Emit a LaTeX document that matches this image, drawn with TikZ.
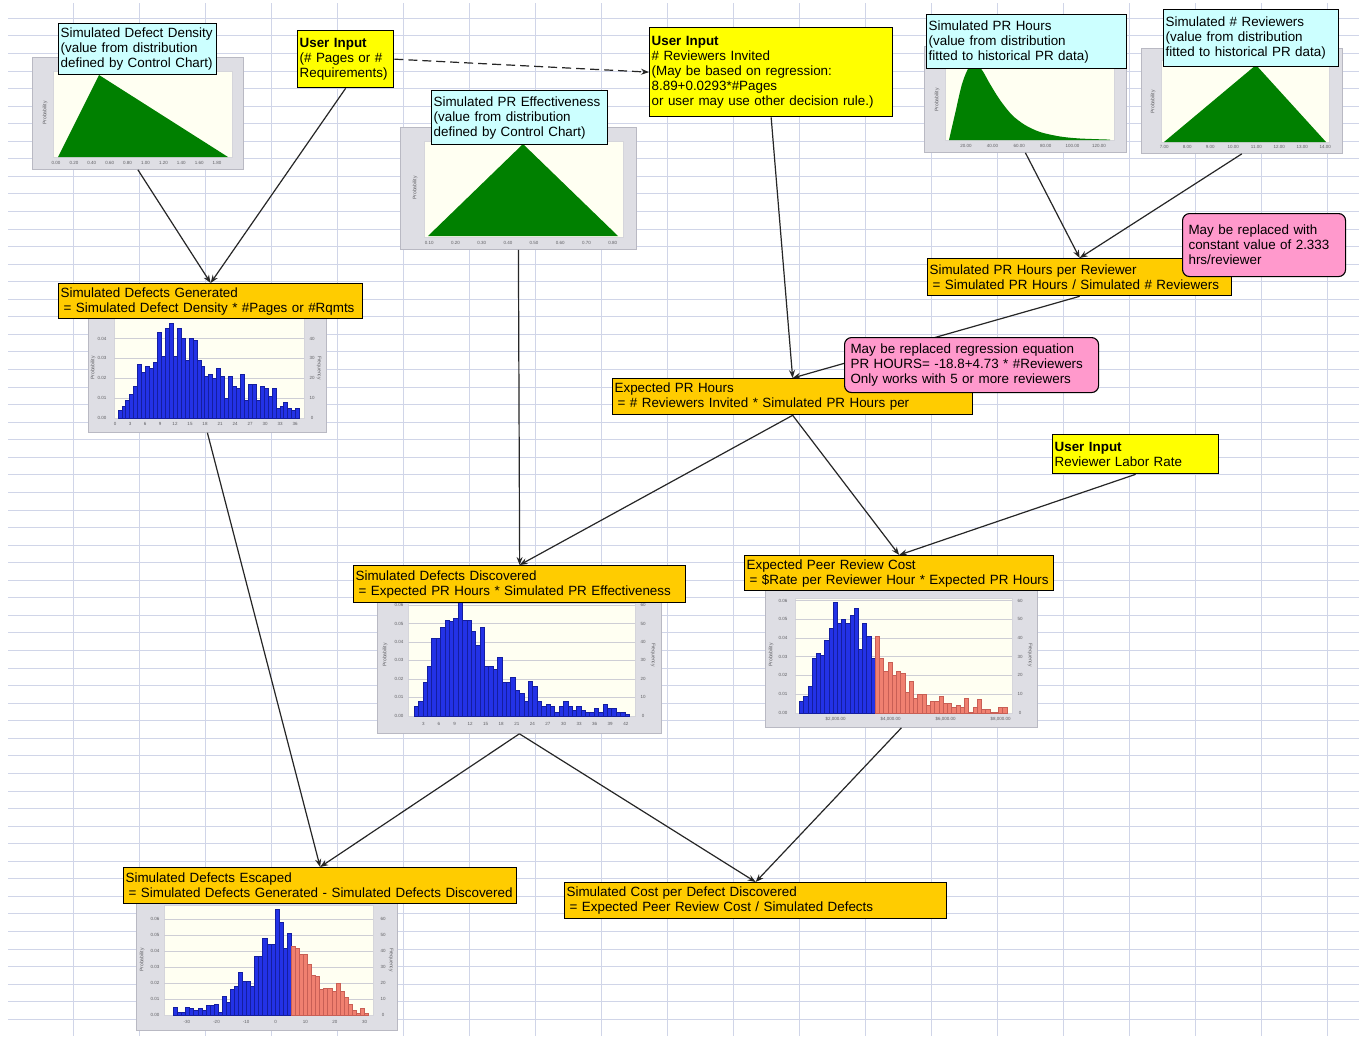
\documentclass[tikz,border=0pt]{standalone}
\usepackage{fontspec}
\setmainfont{Liberation Sans}
\usetikzlibrary{arrows.meta}
\definecolor{gridblue}{RGB}{208,213,232}
\definecolor{calcorange}{RGB}{255,204,0}
\definecolor{distcyan}{RGB}{204,255,255}
\definecolor{inyellow}{RGB}{255,255,0}
\definecolor{notepink}{RGB}{255,153,204}
\definecolor{framefill}{RGB}{222,222,228}
\definecolor{frameline}{RGB}{185,185,195}
\definecolor{plotfill}{RGB}{255,255,242}
\definecolor{distgreen}{RGB}{0,128,0}
\definecolor{barblue}{RGB}{35,50,230}
\definecolor{baredge}{RGB}{20,30,160}
\definecolor{barred}{RGB}{240,128,112}
\definecolor{rededge}{RGB}{200,95,85}
\definecolor{tickgray}{RGB}{95,95,100}
\newcommand\boxfont{\fontsize{13.4}{15}\selectfont}
\newcommand\tickfont{\fontsize{4.5}{5}\selectfont}
\tikzset{
  gridline/.style={draw=gridblue, line width=0.9pt},
  chart/.style={draw=frameline, fill=framefill, anchor=north west, inner sep=0pt, line width=0.8pt},
  plotarea/.style={fill=plotfill, draw=frameline!60, line width=0.5pt},
  plotgrid/.style={draw=frameline!70, line width=0.5pt},
  bluebar/.style={fill=barblue, draw=baredge, line width=0.3pt},
  redbar/.style={fill=barred, draw=rededge, line width=0.3pt},
  tick/.style={font=\tickfont, text=tickgray, inner sep=0pt},
  axlabel/.style={font=\fontsize{5}{5}\selectfont, text=tickgray, inner sep=0pt},
  box/.style={draw=black, line width=1.3pt, anchor=north west, inner xsep=2pt, inner ysep=0pt, align=left, font=\boxfont},
  calc/.style={box, fill=calcorange},
  dist/.style={box, fill=distcyan},
  input/.style={box, fill=inyellow},
  note/.style={box, fill=notepink, rounded corners=7pt, inner xsep=6pt, line width=1.1pt},
  arr/.style={->, line width=1.2pt, draw=black!85}
}
\begin{document}
\begin{tikzpicture}[>={Stealth[length=8pt,width=6pt]}, x=1pt, y=-1pt]
\useasboundingbox (0,0) rectangle (1359,1036);
\fill[white] (0,0) rectangle (1359,1036);
\foreach \i in {0,...,57} \draw[gridline] (8,{18.3+17.56*\i}) -- (1359,{18.3+17.56*\i});
\foreach \i in {0,...,19} \draw[gridline] ({73+66*\i},3) -- ({73+66*\i},1036);

% distributions
\node[chart, minimum width=211, minimum height=112] (densc) at (32,57) {};
\filldraw[plotarea] (53,71) rectangle (232,157);
\fill[distgreen] (58,157) -- (99,75) -- (228,157) -- cycle;
\node[axlabel, rotate=90] (densy) at (45,113) {Probability};
\foreach \v [count=\i from 0] in {0.00,0.20,0.40,0.60,0.80,1.00,1.20,1.40,1.60,1.80}
  \node[tick] (densx\i) at ({56+17.9*\i},163) {\v};

\node[chart, minimum width=236, minimum height=122] (effc) at (400,127) {};
\filldraw[plotarea] (424,141) rectangle (623,237);
\fill[distgreen] (428,236) -- (523,144) -- (618,236) -- cycle;
\node[axlabel, rotate=90] (effy) at (415,188) {Probability};
\foreach \v [count=\i from 0] in {0.10,0.20,0.30,0.40,0.50,0.60,0.70,0.80}
  \node[tick] (effx\i) at ({429.3+26.2*\i},243) {\v};

\node[chart, minimum width=202, minimum height=106] (hrsc) at (924,46) {};
\filldraw[plotarea] (945,60) rectangle (1114,140);
\fill[distgreen] plot[smooth] coordinates {(949,140) (955,114) (962,84) (969,67) (975,64) (982,70) (990,84) (1000,100) (1012,115) (1025,125) (1040,132) (1060,136.5) (1080,138.5) (1110,139.6)} -- (1110,140) -- cycle;
\node[axlabel, rotate=90] (hrsy) at (937,100) {Probability};
\foreach \v [count=\i from 0] in {20.00,40.00,60.00,80.00,100.00,120.00}
  \node[tick] (hrsx\i) at ({966+26.6*\i},146) {\v};

\node[chart, minimum width=201, minimum height=105] (nrevc) at (1141,48) {};
\filldraw[plotarea] (1161,60) rectangle (1329,142);
\fill[distgreen] (1164,142) -- (1256,65) -- (1326,142) -- cycle;
\node[axlabel, rotate=90] (nrevy) at (1153,102) {Probability};
\foreach \v [count=\i from 0] in {7.00,8.00,9.00,10.00,11.00,12.00,13.00,14.00}
  \node[tick] (nrevx\i) at ({1164.3+23*\i},147) {\v};

% histograms
\node[chart, minimum width=238, minimum height=132] (genc) at (88,300) {};
\filldraw[plotarea] (114,318) rectangle (304,418);
\foreach \k in {1,...,4} \draw[plotgrid] (114,{417.7-19.8*\k}) -- (304,{417.7-19.8*\k});
\begin{scope}[shift={(117.7,417.7)}, yscale=-1]
  \foreach \h [count=\i] in {4,6,9,12,16,27,23,26,25,28,43,31,45,48,31,45,40,29,40,39,29,26,21,22,20,25,21,10,21,16,15,22,9,17,17,9,16,15,11,15,5,6,8,5,4,5}
    \filldraw[bluebar] ({(\i-1)*3.95},0) rectangle ++(3.95,{\h*1.98});
\end{scope}
\foreach \v in {0,3,...,36} \node[tick] (genx\v) at ({115+5*\v},424) {\v};
\foreach \k/\f in {0/0,1/10,2/20,3/30,4/40} {
  \node[tick] (genp\k) at (102,{417.7-19.8*\k}) {0.0\k};
  \node[tick] (genf\k) at (312,{417.7-19.8*\k}) {\f};
}
\node[axlabel, rotate=90] (geny) at (93,368) {Probability};
\node[axlabel, rotate=-90] (genr) at (319,368) {Frequency};

\node[chart, minimum width=284, minimum height=138] (discc) at (377,595) {};
\filldraw[plotarea] (408,603) rectangle (635,716);
\foreach \k in {1,...,6} \draw[plotgrid] (408,{715.7-18.45*\k}) -- (635,{715.7-18.45*\k});
\begin{scope}[shift={(414,715.7)}, yscale=-1]
  \foreach \h [count=\i] in {5,8,18,27,42,42,48,52,51,53,62,52,52,46,38,48,27,27,25,32,18,18,21,14,12,8,19,16,8,5,6,5,2,5,8,5,3,5,3,2,2,4,2,6,4,4,2,2,1}
    \filldraw[bluebar] ({(\i-1)*4.39},0) rectangle ++(4.39,{\h*1.845});
\end{scope}
\foreach \v in {3,6,...,42} \node[tick] (discx\v) at ({407.8+5.19*\v},724) {\v};
\foreach \k/\f in {0/0,1/10,2/20,3/30,4/40,5/50,6/60} {
  \node[tick] (discp\k) at (399,{715.7-18.45*\k}) {0.0\k};
  \node[tick] (discf\k) at (643,{715.7-18.45*\k}) {\f};
}
\node[axlabel, rotate=90] (discy) at (385,655) {Probability};
\node[axlabel, rotate=-90] (discr) at (653,655) {Frequency};

\node[chart, minimum width=272, minimum height=138] (costc) at (765,589) {};
\filldraw[plotarea] (795,598) rectangle (1012,713);
\foreach \k in {1,...,6} \draw[plotgrid] (795,{712.7-18.7*\k}) -- (1012,{712.7-18.7*\k});
\begin{scope}[shift={(799.3,712.7)}, yscale=-1]
  \foreach \h [count=\i] in {6,9,14,29,32,31,39,45,59,48,50,48,52,56,34,48,41,29}
    \filldraw[bluebar] ({(\i-1)*4.2},0) rectangle ++(4.2,{\h*1.87});
\end{scope}
\begin{scope}[shift={(875,712.7)}, yscale=-1]
  \foreach \h [count=\i] in {41,29,22,27,20,22,21,11,17,8,10,10,4,6,6,9,5,5,3,4,3,8,0.4,3,7,2,2,0.4,0.4,3,3}
    \filldraw[redbar] ({(\i-1)*4.25},0) rectangle ++(4.25,{\h*1.87});
\end{scope}
\foreach \v [count=\i] in {2,4,6,8} \node[tick] (costx\i) at ({835.7+27.5*(\v-2)},719.5) {\$\v,000.00};
\foreach \k/\f in {0/0,1/10,2/20,3/30,4/40,5/50,6/60} {
  \node[tick] (costp\k) at (783,{712.7-18.7*\k}) {0.0\k};
  \node[tick] (costf\k) at (1020,{712.7-18.7*\k}) {\f};
}
\node[axlabel, rotate=90] (costy) at (771,655) {Probability};
\node[axlabel, rotate=-90] (costr) at (1030,655) {Frequency};

\node[chart, minimum width=261, minimum height=135] (escc) at (136,895) {};
\filldraw[plotarea] (164,905) rectangle (373,1015);
\foreach \k in {1,...,6} \draw[plotgrid] (164,{1015-16*\k}) -- (373,{1015-16*\k});
\begin{scope}[shift={(173.3,1015)}, yscale=-1]
  \foreach \h [count=\i] in {5,1.5,2,5,4,3,4,3,6,6,7,2,12,8,16,18,27,21,21,18,37,37,48,44,44,66,58,42,51}
    \filldraw[bluebar] ({(\i-1)*4.06},0) rectangle ++(4.06,{\h*1.6});
\end{scope}
\begin{scope}[shift={(291,1015)}, yscale=-1]
  \foreach \h [count=\i] in {43,42,38,38,32,25,24,16,17,17,15,20,15,11,7,3,1,4,1}
    \filldraw[redbar] ({(\i-1)*4.07},0) rectangle ++(4.07,{\h*1.6});
\end{scope}
\foreach \v [count=\i] in {-30,-20,-10,0,10,20,30} \node[tick] (escx\i) at ({275.7+2.96*\v},1022) {\v};
\foreach \k/\f in {0/0,1/10,2/20,3/30,4/40,5/50,6/60} {
  \node[tick] (escp\k) at (155,{1015-16*\k}) {0.0\k};
  \node[tick] (escf\k) at (383,{1015-16*\k}) {\f};
}
\node[axlabel, rotate=90] (escy) at (142,960) {Probability};
\node[axlabel, rotate=-90] (escr) at (391,960) {Frequency};

% boxes
\node[dist, minimum width=158, minimum height=51, text width=154] (dens) at (58,23)
  {Simulated Defect Density\\(value from distribution\\defined by Control Chart)};
\node[input, minimum width=96, minimum height=57, text width=92] (pages) at (297,30)
  {\textbf{User Input}\\(\# Pages or \#\\Requirements)};
\node[calc, minimum width=304, minimum height=35, text width=300] (gen) at (58,283)
  {Simulated Defects Generated\\\hspace*{3pt}= Simulated Defect Density * \#Pages or \#Rqmts};
\node[dist, minimum width=176, minimum height=54, text width=172] (eff) at (431,90)
  {Simulated PR Effectiveness\\(value from distribution\\defined by Control Chart)};
\node[input, minimum width=243, minimum height=89, text width=239] (rev) at (649,27)
  {\textbf{User Input}\\\# Reviewers Invited\\(May be based on regression:\\8.89+0.0293*\#Pages\\or user may use other decision rule.)};
\node[dist, minimum width=200, minimum height=54, text width=196] (hrs) at (926,14)
  {Simulated PR Hours\\(value from distribution\\fitted to historical PR data)};
\node[dist, minimum width=175, minimum height=57, text width=171] (nrev) at (1163,9)
  {Simulated \# Reviewers\\(value from distribution\\fitted to historical PR data)};
\node[calc, minimum width=304, minimum height=37, text width=300] (hpr) at (927,258)
  {Simulated PR Hours per Reviewer\\\hspace*{3pt}= Simulated PR Hours / Simulated \# Reviewers};
\node[calc, minimum width=360, minimum height=36, text width=356] (exph) at (612,378)
  {Expected PR Hours\\\hspace*{3pt}= \# Reviewers Invited * Simulated PR Hours per};
\node[input, minimum width=166, minimum height=39, text width=162] (rate) at (1052,434)
  {\textbf{User Input}\\Reviewer Labor Rate};
\node[calc, minimum width=309, minimum height=35, text width=305] (cost) at (744,555)
  {Expected Peer Review Cost\\\hspace*{3pt}= \$Rate per Reviewer Hour * Expected PR Hours};
\node[calc, minimum width=332, minimum height=37, text width=328] (disc) at (353,565)
  {Simulated Defects Discovered\\\hspace*{3pt}= Expected PR Hours * Simulated PR Effectiveness};
\node[calc, minimum width=393, minimum height=36, text width=389] (esc) at (123,867)
  {Simulated Defects Escaped\\\hspace*{3pt}= Simulated Defects Generated - Simulated Defects Discovered};
\node[calc, minimum width=382, minimum height=36, text width=378] (cpd) at (564,882)
  {Simulated Cost per Defect Discovered\\\hspace*{3pt}= Expected Peer Review Cost / Simulated Defects};

% connectors
\draw[arr] (densc.south) -- (gen.north);
\draw[arr] (pages.south) -- (gen.north);
\draw[arr, dashed, dash pattern=on 9pt off 5pt] (pages.east) -- (rev.west);
\draw[arr] (effc.south) -- (disc.north);
\draw[arr] (rev.south) -- (exph.north);
\draw[arr] (hrsc.south) -- (hpr.north);
\draw[arr] (nrevc.south) -- (hpr.north);
\draw[arr] (hpr.south) -- (exph.north);
\draw[arr] (exph.south) -- (disc.north);
\draw[arr] (exph.south) -- (cost.north);
\draw[arr] (rate.south) -- (cost.north);
\draw[arr] (genc.south) -- (esc.north);
\draw[arr] (discc.south) -- (esc.north);
\draw[arr] (discc.south) -- (cpd.north);
\draw[arr] (costc.south) -- (cpd.north);

% notes
\node[note, minimum width=163, minimum height=63, text width=151] (note1) at (1182,213)
  {May be replaced with\\constant value of 2.333\\hrs/reviewer};
\node[note, minimum width=254, minimum height=55, text width=242] (note2) at (844,337)
  {May be replaced regression equation\\PR HOURS= -18.8+4.73 * \#Reviewers\\Only works with 5 or more reviewers};
\end{tikzpicture}
\end{document}
